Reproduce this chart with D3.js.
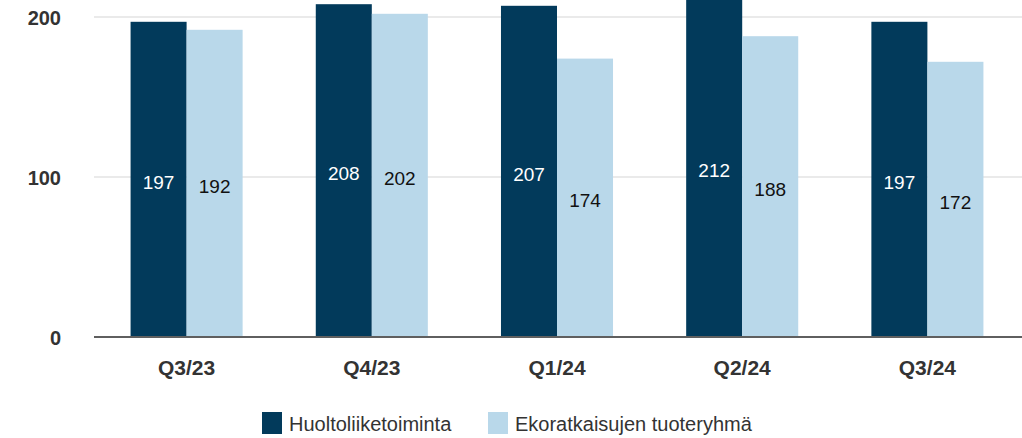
<!DOCTYPE html>
<html>
<head>
<meta charset="utf-8">
<script src="https://cdn.jsdelivr.net/npm/d3@7"></script>
<style>
  html, body { margin: 0; padding: 0; background: #fff; }
  svg { display: block; font-family: 'Liberation Sans', Arial, sans-serif; }
</style>
</head>
<body>
<div id="chart"></div>
<script>
const quarters = ['Q3/23', 'Q4/23', 'Q1/24', 'Q2/24', 'Q3/24'];
const seriesNames = ['Huoltoliiketoiminta', 'Ekoratkaisujen tuoteryhmä'];
const huolto = [197, 208, 207, 212, 197];
const ekoratkaisut = [192, 202, 174, 188, 172];
const yTicks = [0, 100, 200];

const colors = ['#023a5b', '#b9d8ea'];
const labelColors = ['#ffffff', '#111111'];

const width = 1022;
const height = 438;

const svg = d3.select('#chart').append('svg')
  .attr('width', width)
  .attr('height', height);

const x = d3.scaleBand().domain(quarters).range([94, 1020])
  .paddingInner(0.395).paddingOuter(0.1975);
const xSub = d3.scaleBand().domain([0, 1]).range([0, x.bandwidth()]);
const y = d3.scaleLinear().domain([0, 200]).range([337, 17]);

// grid lines
svg.append('g').selectAll('line').data(yTicks.filter(d => d > 0)).enter()
  .append('line')
  .attr('x1', 94).attr('x2', width)
  .attr('y1', d => y(d)).attr('y2', d => y(d))
  .attr('stroke', '#e3e3e3').attr('stroke-width', 1.5);

// y tick labels
svg.append('g').selectAll('text').data(yTicks).enter()
  .append('text')
  .attr('x', 61).attr('y', d => y(d) + 1)
  .attr('text-anchor', 'end')
  .attr('dominant-baseline', 'central')
  .attr('font-size', 20).attr('font-weight', 'bold')
  .attr('fill', '#333')
  .text(d => d);

const rows = quarters.map((q, i) => ({q: q, vals: [huolto[i], ekoratkaisut[i]]}));

const groups = svg.append('g').selectAll('g').data(rows).enter()
  .append('g')
  .attr('transform', d => `translate(${x(d.q)},0)`);

groups.selectAll('rect').data(d => d.vals).enter()
  .append('rect')
  .attr('x', (d, i) => xSub(i))
  .attr('width', xSub.bandwidth())
  .attr('y', d => y(d))
  .attr('height', d => y(0) - y(d))
  .attr('fill', (d, i) => colors[i]);

groups.selectAll('text').data(d => d.vals).enter()
  .append('text')
  .attr('x', (d, i) => xSub(i) + xSub.bandwidth() / 2)
  .attr('y', d => (y(d) + y(0)) / 2 + 3)
  .attr('text-anchor', 'middle')
  .attr('dominant-baseline', 'central')
  .attr('font-size', 19)
  .attr('fill', (d, i) => labelColors[i])
  .text(d => d);

// baseline
svg.append('line')
  .attr('x1', 94).attr('x2', width)
  .attr('y1', y(0)).attr('y2', y(0))
  .attr('stroke', '#5f5f5f').attr('stroke-width', 2);

// x labels
svg.append('g').selectAll('text').data(quarters).enter()
  .append('text')
  .attr('x', d => x(d) + x.bandwidth() / 2)
  .attr('y', 367)
  .attr('text-anchor', 'middle')
  .attr('dominant-baseline', 'central')
  .attr('font-size', 21).attr('font-weight', 'bold')
  .attr('fill', '#333')
  .text(d => d);

// legend
const legendX = [262, 488];
const legend = svg.append('g').selectAll('g').data(seriesNames).enter()
  .append('g')
  .attr('transform', (d, i) => `translate(${legendX[i]},412)`);
legend.append('rect')
  .attr('width', 20).attr('height', 22)
  .attr('fill', (d, i) => colors[i]);
legend.append('text')
  .attr('x', 27).attr('y', 12)
  .attr('dominant-baseline', 'central')
  .attr('font-size', 20)
  .attr('fill', '#333')
  .text(d => d);
</script>
</body>
</html>
